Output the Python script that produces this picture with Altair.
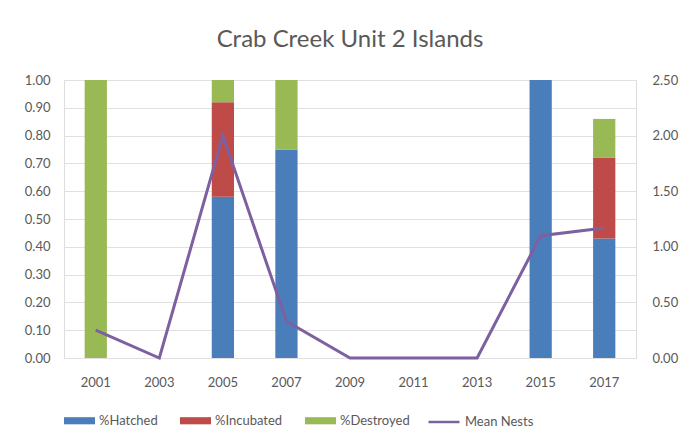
import altair as alt
import pandas as pd

years = ["2001", "2003", "2005", "2007", "2009", "2011", "2013", "2015", "2017"]
hatched = [0.0, 0.0, 0.58, 0.75, 0.0, 0.0, 0.0, 1.00, 0.43]
incubated = [0.0, 0.0, 0.34, 0.0, 0.0, 0.0, 0.0, 0.0, 0.29]
destroyed = [1.00, 0.0, 0.08, 0.25, 0.0, 0.0, 0.0, 0.0, 0.14]
mean_nests = [0.25, 0.0, 2.00, 0.33, 0.0, 0.0, 0.0, 1.10, 1.17]

bar_series = ["%Hatched", "%Incubated", "%Destroyed"]
bar_colors = ["#4A7EBB", "#BE4B48", "#98B954"]
line_series = ["Mean Nests"]
line_colors = ["#7D60A0"]

rows = []
for i, y in enumerate(years):
    for k, (name, vals) in enumerate(zip(bar_series, [hatched, incubated, destroyed])):
        rows.append({"year": y, "series": name, "value": vals[i], "ord": k})
bars_df = pd.DataFrame(rows)
line_df = pd.DataFrame({"year": years, "nests": mean_nests, "lseries": "Mean Nests"})

FONT = "Lato"
GREY = "#595959"
GRID = "#e0e0e0"
SYM = 961

x = alt.X(
    "year:N",
    sort=years,
    title=None,
    scale=alt.Scale(paddingInner=0.65),
    axis=alt.Axis(
        labelAngle=0,
        ticks=False,
        domainColor=GRID,
        labelColor=GREY,
        labelFont=FONT,
        labelFontSize=13,
        labelPadding=18,
    ),
)

bars = alt.Chart(bars_df).transform_filter("datum.value > 0").mark_bar().encode(
    x=x,
    y=alt.Y(
        "value:Q",
        stack="zero",
        title=None,
        scale=alt.Scale(domain=[0, 1], nice=False),
        axis=alt.Axis(
            values=[i / 10 for i in range(11)],
            format=".2f",
            grid=True,
            gridColor=GRID,
            domain=False,
            ticks=False,
            labelColor=GREY,
            labelFont=FONT,
            labelFontSize=13,
            labelPadding=14,
        ),
    ),
    color=alt.Color(
        "series:N",
        scale=alt.Scale(domain=bar_series, range=bar_colors),
        sort=bar_series,
        legend=alt.Legend(
            title=None,
            orient="none",
            legendX=0,
            legendY=325,
            direction="horizontal",
            columns=3,
            columnPadding=22,
            symbolType="M-1,-0.23H1V0.23H-1Z",
            symbolSize=SYM,
            symbolStrokeWidth=0,
            labelFont=FONT,
            labelFontSize=13,
            labelColor=GREY,
            labelOffset=4,
        ),
    ),
    order=alt.Order("ord:Q"),
)

line = alt.Chart(line_df).mark_line(strokeWidth=3).encode(
    x=x,
    y=alt.Y(
        "nests:Q",
        title=None,
        scale=alt.Scale(domain=[0, 2.5], nice=False),
        axis=alt.Axis(
            orient="right",
            values=[0, 0.5, 1.0, 1.5, 2.0, 2.5],
            format=".2f",
            grid=False,
            domain=False,
            ticks=False,
            labelColor=GREY,
            labelFont=FONT,
            labelFontSize=13,
            labelPadding=16,
        ),
    ),
    color=alt.Color(
        "lseries:N",
        scale=alt.Scale(domain=line_series, range=line_colors),
        legend=alt.Legend(
            title=None,
            orient="none",
            legendX=363,
            legendY=325,
            direction="horizontal",
            symbolType="stroke",
            symbolSize=SYM,
            symbolStrokeWidth=2.5,
            labelFont=FONT,
            labelFontSize=13,
            labelColor=GREY,
            labelOffset=4,
        ),
    ),
)

chart = (
    alt.layer(bars, line)
    .resolve_scale(y="independent", color="independent")
    .properties(
        width=572,
        height=278,
        autosize=alt.AutoSizeParams(type="none"),
        padding={"left": 56, "top": 72, "right": 46, "bottom": 78},
        title=alt.TitleParams(
            "Crab Creek Unit 2 Islands",
            font=FONT,
            fontSize=24,
            fontWeight="normal",
            color=GREY,
            offset=22,
            anchor="middle",
        ),
    )
    .configure_view(stroke=None)
    .configure(background="white")
)

chart.save("out.html", embed_options={"renderer": "svg", "actions": False})
